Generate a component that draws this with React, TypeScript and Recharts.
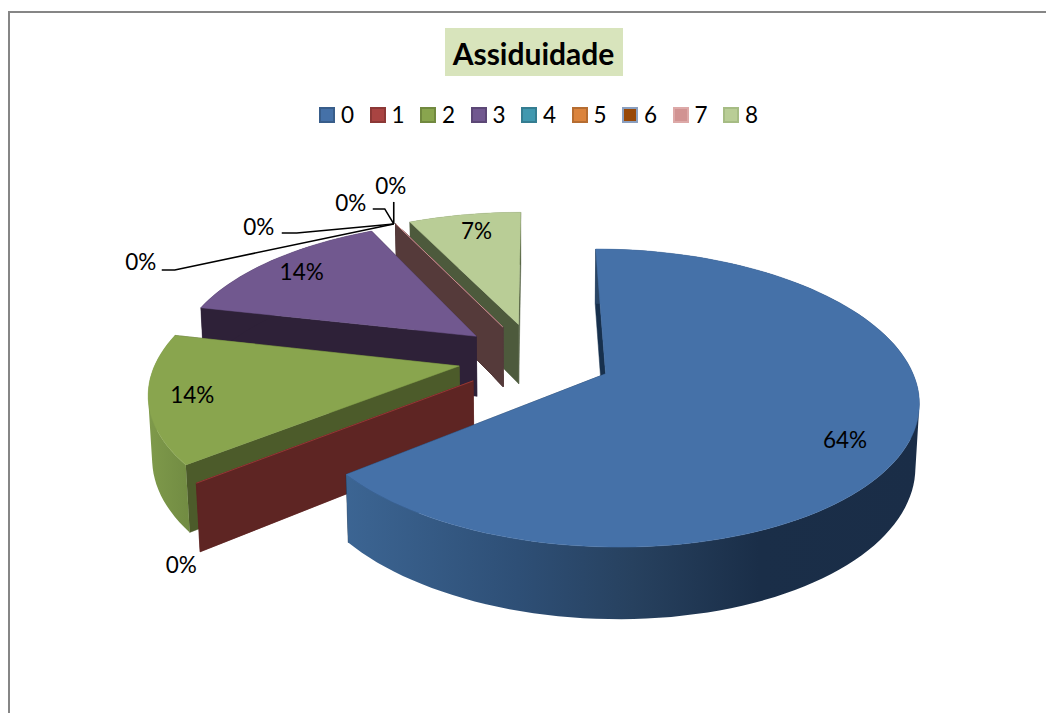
import React from 'react'
import { PieChart, Pie, Legend } from 'recharts'

const categories = ['0', '1', '2', '3', '4', '5', '6', '7', '8']
const counts = [9, 0, 2, 2, 0, 0, 0, 0, 1]

const topColors = ['#4571A8', '#A94442', '#89A54E', '#71588F', '#4198AF', '#DB843D', '#984807', '#D19392', '#B9CD96']
const legendBorders = ['#385D8A', '#8C3836', '#71893F', '#5C4776', '#357D91', '#B66D31', '#8A9FBF', '#DDA9A8', '#A6BC84']
const wallColors = ['#17304D', '#5E2523', '#4C5B2A', '#2E2138', '#553A3A', '#553A3A', '#553A3A', '#553A3A', '#4D5A3C']
const edgeColors = ['#4571A8', '#953735', '#4C5B2A', '#71588F', '#C99090', '#C99090', '#C99090', '#C99090', '#B9CD96']

// label position relative to the slice's rim point, and leader line elbows
const labelShift = [[-64, -2], [-15, 81], [44, -4], [30, 11], [-255, 38], [-137, 3], [-45, -21], [-5, -38], [12, 16]]
const leaderLines: Record<string, number[][]> = {
    '4': [[-234, 46], [-221, 46], [-2, 0]],
    '5': [[-114, 9], [-99, 9], [-2, 0]],
    '6': [[-23, -15], [-11, -15], [-2, 0]],
    '7': [[-2, -22], [-2, 0]]
}

// draw order is back to front, so the table runs from the last category to the first
const pieData = categories.map((name, i) => ({ name, value: counts[i] })).reverse()

const EXPLODE = 0.255
const PERSPECTIVE = 0.16
const SQUASH = 0.4636
const DEPTH = 0.205
const DEPTH_W = 0.01
const FONT = 'Lato, sans-serif'

// clockwise from 12 o'clock -> [right, towards viewer]
const dir = (deg: number) => [Math.sin((deg * Math.PI) / 180), -Math.cos((deg * Math.PI) / 180)]

// slice local point -> screen. r is the fraction of radius, h 0 = top face, 1 = bottom face
const project = (cx: number, cy: number, R: number, mid: number, deg: number, r: number, h: number) => {
    const m = dir(mid)
    const d = dir(deg)
    const U = EXPLODE * m[0] + r * d[0]
    const V = EXPLODE * m[1] + r * d[1]
    const w = 1 - PERSPECTIVE * V + DEPTH_W * h
    return [cx + (R * U) / w, cy + (R * SQUASH * V + R * DEPTH * h) / w]
}

const toPath = (pts: number[][]) =>
    pts.map((p, i) => `${i ? 'L' : 'M'}${p[0].toFixed(1)} ${p[1].toFixed(1)}`).join(' ') + ' Z'

// same winding for every quad, so the nonzero fill keeps their union
const windQuad = (q: number[][]) => {
    let area = 0
    q.forEach((p, i) => {
        const n = q[(i + 1) % q.length]
        area += p[0] * n[1] - n[0] * p[1]
    })
    return area < 0 ? [...q].reverse() : q
}

const Slice3D = (props: any) => {
    const { cx, cy, outerRadius: R, startAngle, endAngle, name } = props
    const idx = categories.indexOf(String(name))
    const a0 = 90 - startAngle
    const a1 = 90 - endAngle
    const mid = (a0 + a1) / 2
    const steps = Math.max(1, Math.ceil(Math.abs(a1 - a0) / 2))
    const topRim: number[][] = []
    const botRim: number[][] = []
    for (let i = 0; i <= steps; i++) {
        const a = a0 + ((a1 - a0) * i) / steps
        topRim.push(project(cx, cy, R, mid, a, 1, 0))
        botRim.push(project(cx, cy, R, mid, a, 1, 1))
    }
    const apex = project(cx, cy, R, mid, mid, 0, 0)
    const apexB = project(cx, cy, R, mid, mid, 0, 1)
    const last = topRim.length - 1
    const wall = wallColors[idx]
    const gradId = `rim-${idx}`
    const rimFill = idx === 0 || idx === 2 ? `url(#${gradId})` : wall
    // a single ring would lose the silhouette where the two rims cross
    const rimPath = topRim
        .slice(0, last)
        .map((p, i) => toPath(windQuad([p, topRim[i + 1], botRim[i + 1], botRim[i]])))
        .join(' ')

    return (
        <g>
            {idx === 0 && (
                <defs>
                    <linearGradient id={gradId} gradientUnits="userSpaceOnUse" x1={345} x2={920} y1={0} y2={0}>
                        <stop offset="0" stopColor="#3C6593" />
                        <stop offset="0.3" stopColor="#2E4F76" />
                        <stop offset="0.5" stopColor="#27415F" />
                        <stop offset="0.72" stopColor="#1A2E48" />
                        <stop offset="1" stopColor="#1A2D47" />
                    </linearGradient>
                </defs>
            )}
            {idx === 2 && (
                <defs>
                    <linearGradient id={gradId} gradientUnits="userSpaceOnUse" x1={147} x2={200} y1={0} y2={0}>
                        <stop offset="0" stopColor="#7F9A4B" />
                        <stop offset="1" stopColor="#6E8840" />
                    </linearGradient>
                </defs>
            )}
            <path d={toPath([apex, topRim[0], botRim[0], apexB])} fill={wall} stroke={wall} strokeWidth={0.5} />
            <path d={toPath([apex, topRim[last], botRim[last], apexB])} fill={wall} stroke={wall} strokeWidth={0.5} />
            {steps > 1 && <path d={rimPath} fill={rimFill} fillRule="nonzero" />}
            {steps > 1 ? (
                <path d={toPath([apex, ...topRim])} fill={topColors[idx]} stroke={topColors[idx]} strokeWidth={0.5} />
            ) : (
                <line
                    x1={apex[0]}
                    y1={apex[1]}
                    x2={topRim[0][0]}
                    y2={topRim[0][1]}
                    stroke={edgeColors[idx]}
                    strokeWidth={1}
                />
            )}
        </g>
    )
}

const renderLabel = (props: any) => {
    const { cx, cy, outerRadius: R, midAngle, percent, name } = props
    const idx = categories.indexOf(String(name))
    const mid = 90 - midAngle
    const rim = project(cx, cy, R, mid, mid, 1, 0)
    const shift = labelShift[idx]
    const leader = leaderLines[name]
    return (
        <g>
            {leader && (
                <polyline
                    points={leader.map((p) => `${rim[0] + p[0]},${rim[1] + p[1]}`).join(' ')}
                    fill="none"
                    stroke="#000"
                    strokeWidth={1.6}
                />
            )}
            <text
                x={rim[0] + shift[0]}
                y={rim[1] + shift[1]}
                textAnchor="middle"
                dominantBaseline="central"
                fontFamily={FONT}
                fontSize={22.5}
                fill="#000"
            >
                {`${Math.round(percent * 100)}%`}
            </text>
        </g>
    )
}

const renderLegend = () => (
    <div style={{ display: 'flex', fontFamily: FONT, fontSize: 22.5, color: '#000', lineHeight: '30px' }}>
        {categories.map((c, i) => (
            <div key={c} style={{ width: 50.5, display: 'flex', alignItems: 'center' }}>
                <span
                    style={{
                        width: 12,
                        height: 12,
                        marginRight: 6,
                        background: topColors[i],
                        border: `2px solid ${legendBorders[i]}`,
                        display: 'inline-block'
                    }}
                />
                {c}
            </div>
        ))}
    </div>
)

const App = () => {
    return (
        <div style={{ position: 'absolute', left: 0, top: 0, width: 1046, height: 713, overflow: 'hidden' }}>
            <div
                style={{
                    position: 'absolute',
                    left: 8,
                    top: 11,
                    width: 1200,
                    height: 900,
                    border: '2px solid #868686'
                }}
            />
            <PieChart width={1046} height={713} margin={{ top: 0, right: 0, bottom: 0, left: 0 }}>
                <rect x={445} y={28} width={178} height={48} fill="#D8E4BC" />
                <text
                    x={533.5}
                    y={53}
                    textAnchor="middle"
                    dominantBaseline="central"
                    fontFamily={FONT}
                    fontWeight={700}
                    fontSize={30}
                    fill="#000"
                >
                    Assiduidade
                </text>
                <Legend
                    content={renderLegend}
                    wrapperStyle={{ position: 'absolute', left: 319, top: 100, width: 470, bottom: 'auto' }}
                />
                <Pie
                    data={pieData}
                    dataKey="value"
                    nameKey="name"
                    cx={535}
                    cy={358}
                    outerRadius={302}
                    startAngle={90}
                    endAngle={450}
                    stroke="none"
                    shape={Slice3D}
                    label={renderLabel}
                    labelLine={false}
                    isAnimationActive={false}
                />
            </PieChart>
        </div>
    )
}

export default App
